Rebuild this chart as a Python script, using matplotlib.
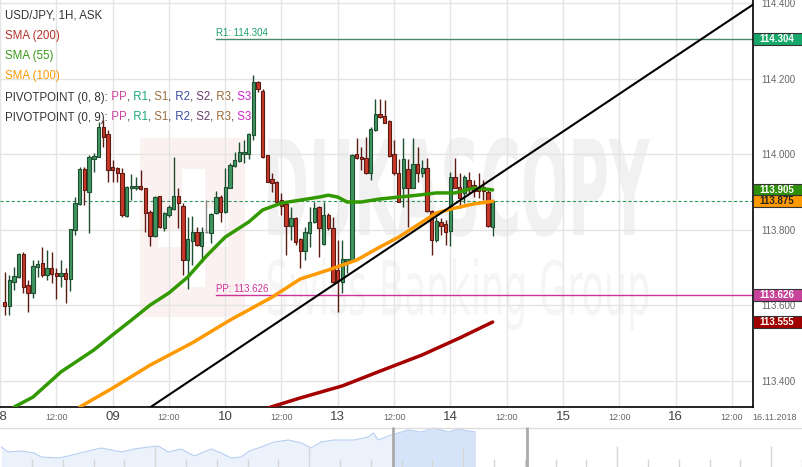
import numpy as np
import matplotlib
matplotlib.use('Agg')
from matplotlib import pyplot as plt
from matplotlib.patches import Rectangle, PathPatch
from matplotlib.textpath import TextPath
from matplotlib.font_manager import FontProperties
from matplotlib.transforms import Affine2D, blended_transform_factory

plt.rcParams['font.family'] = ['Liberation Sans', 'DejaVu Sans']

# hourly candles, USD/JPY (bar 1 = 08.11 01:00)
opens = [113.608, 113.597, 113.661, 113.674, 113.735, 113.653, 113.632, 113.701, 113.711, 113.680,
         113.698, 113.685, 113.677, 113.685, 113.669, 113.799, 113.868, 113.960, 113.899, 113.987,
         113.992, 114.072, 114.053, 113.966, 113.963, 113.950, 113.836, 113.910, 113.910, 113.915,
         113.910, 113.846, 113.783, 113.889, 113.804, 113.838, 113.854, 113.889, 113.862, 113.719,
         113.770, 113.793, 113.756, 113.793, 113.791, 113.844, 113.886, 113.846, 113.910, 113.968,
         113.982, 114.000, 114.000, 114.050, 114.191, 114.167, 113.997, 113.934, 113.926, 113.878,
         113.868, 113.809, 113.831, 113.775, 113.743, 113.791, 113.820, 113.860, 113.762, 113.838,
         113.804, 113.693, 113.661, 113.717, 113.719, 114.000, 113.992, 113.989, 113.950, 114.064,
         114.106, 114.101, 114.087, 114.000, 113.950, 113.910, 113.960, 113.910, 113.974, 113.950,
         113.963, 113.849, 113.772, 113.820, 113.815, 113.796, 113.939, 113.913, 113.897, 113.931,
         113.918, 113.913, 113.913, 113.899, 113.807]
highs = [113.687, 113.680, 113.701, 113.738, 113.740, 113.666, 113.719, 113.719, 113.754, 113.746,
         113.740, 113.698, 113.719, 113.698, 113.801, 113.886, 113.966, 113.966, 113.997, 114.003,
         114.085, 114.090, 114.064, 113.984, 113.966, 113.963, 113.915, 113.947, 113.939, 113.958,
         113.910, 113.852, 113.889, 113.889, 113.846, 113.865, 113.992, 113.910, 113.870, 113.833,
         113.836, 113.807, 113.807, 113.878, 113.844, 113.902, 113.891, 113.963, 113.976, 114.005,
         114.032, 114.037, 114.056, 114.209, 114.193, 114.172, 113.997, 113.950, 113.929, 113.897,
         113.870, 113.860, 113.833, 113.778, 113.807, 113.860, 113.873, 113.862, 113.873, 113.844,
         113.833, 113.772, 113.772, 113.722, 114.000, 114.042, 114.019, 114.045, 114.072, 114.146,
         114.146, 114.143, 114.090, 114.037, 113.987, 114.042, 113.987, 114.042, 114.019, 113.984,
         113.989, 113.852, 113.833, 113.831, 113.825, 113.952, 113.989, 113.950, 113.944, 113.952,
         113.931, 113.950, 113.931, 113.905, 113.878]
lows = [113.574, 113.574, 113.640, 113.672, 113.632, 113.581, 113.619, 113.674, 113.674, 113.666,
        113.658, 113.616, 113.648, 113.605, 113.637, 113.786, 113.865, 113.865, 113.791, 113.952,
        113.992, 114.019, 113.926, 113.926, 113.926, 113.833, 113.833, 113.878, 113.905, 113.905,
        113.793, 113.756, 113.780, 113.804, 113.796, 113.833, 113.852, 113.804, 113.680, 113.642,
        113.706, 113.756, 113.714, 113.791, 113.764, 113.841, 113.820, 113.844, 113.910, 113.966,
        113.979, 113.976, 113.987, 114.037, 114.164, 113.989, 113.926, 113.899, 113.873, 113.838,
        113.733, 113.772, 113.759, 113.698, 113.719, 113.754, 113.817, 113.727, 113.759, 113.799,
        113.658, 113.581, 113.632, 113.685, 113.714, 113.987, 113.958, 113.947, 113.931, 114.061,
        114.095, 114.082, 113.992, 113.944, 113.873, 113.860, 113.807, 113.910, 113.926, 113.939,
        113.846, 113.733, 113.767, 113.786, 113.759, 113.756, 113.910, 113.857, 113.870, 113.897,
        113.886, 113.883, 113.878, 113.807, 113.783]
closes = [113.597, 113.666, 113.677, 113.735, 113.648, 113.632, 113.703, 113.709, 113.680, 113.698,
          113.682, 113.677, 113.685, 113.669, 113.801, 113.870, 113.960, 113.905, 113.992, 113.995,
          114.072, 114.045, 113.958, 113.958, 113.950, 113.838, 113.913, 113.915, 113.915, 113.907,
          113.844, 113.783, 113.886, 113.807, 113.844, 113.860, 113.889, 113.870, 113.719, 113.775,
          113.793, 113.759, 113.793, 113.793, 113.841, 113.886, 113.846, 113.913, 113.971, 113.984,
          114.005, 114.005, 114.053, 114.191, 114.172, 113.992, 113.926, 113.923, 113.873, 113.862,
          113.809, 113.831, 113.767, 113.743, 113.793, 113.820, 113.857, 113.804, 113.838, 113.804,
          113.661, 113.664, 113.722, 113.722, 113.997, 113.989, 113.987, 113.950, 114.066, 114.106,
          114.098, 114.082, 113.995, 113.950, 113.873, 113.987, 113.910, 113.974, 113.950, 113.963,
          113.849, 113.772, 113.823, 113.809, 113.793, 113.939, 113.910, 113.883, 113.939, 113.913,
          113.902, 113.902, 113.902, 113.809, 113.875]

# moving averages (bar index, price)
sma55_bar = [3, 7, 13, 20, 24, 28, 32, 36, 40, 44, 48, 53, 56, 60, 64, 68, 70, 72, 74, 77, 81, 85, 89, 93, 97, 101, 105]
sma55 = [113.330, 113.356, 113.423, 113.481, 113.521, 113.560, 113.600, 113.632, 113.674, 113.730,
         113.780, 113.820, 113.852, 113.870, 113.878, 113.886, 113.891, 113.886, 113.873, 113.873,
         113.881, 113.886, 113.891, 113.897, 113.897, 113.910, 113.905]
sma100_bar = [17, 24, 32, 41, 49, 58, 64, 70, 76, 81, 85, 89, 93, 97, 101, 105]
sma100 = [113.330, 113.380, 113.441, 113.500, 113.560, 113.621, 113.669, 113.693, 113.719, 113.754,
          113.780, 113.812, 113.844, 113.857, 113.868, 113.875]
sma200_bar = [57, 64, 73, 81, 90, 98, 105]
sma200 = [113.327, 113.354, 113.386, 113.425, 113.468, 113.513, 113.555]

trend_bar = [32, 161]
trend = [113.329, 114.400]

pp, r1 = 113.626, 114.304
pivot_start = 46

tick_labels = ['08', '12:00', '09', '12:00', '10', '12:00', '13', '12:00',
               '14', '12:00', '15', '12:00', '16', '12:00']

# navigator (days, price)
nav_days = [0, 0.23, 0.65, 1.07, 1.30, 1.85, 2.18, 2.69, 3.25, 3.57, 3.90, 4.32, 4.77, 5.10, 5.42,
            5.84, 6.27, 6.82, 7.14, 7.47, 7.79, 8.05, 8.44, 8.86, 9.32, 9.74, 10.06, 10.39, 10.81,
            11.46, 11.92, 12.08, 12.24, 12.66, 13.21, 13.64, 14.06, 14.51, 14.84, 15.16, 15.39]
nav_price = [113.20, 112.90, 112.96, 112.84, 112.60, 112.54, 112.66, 112.90, 113.14, 113.02, 112.90,
             113.08, 113.20, 113.26, 112.90, 113.08, 112.66, 113.08, 112.84, 112.54, 112.60, 112.96,
             113.20, 113.50, 113.62, 113.44, 113.14, 113.50, 113.62, 113.62, 113.80, 114.04, 113.62,
             113.92, 114.22, 114.10, 114.34, 114.10, 114.28, 114.16, 114.10]
nav_window = (12.73, 17.08)

UP, UP_EDGE = '#3f9560', '#1e4d2f'
DOWN, DOWN_EDGE = '#c8382a', '#5c1b12'
TXT = '#333333'

fig = plt.figure(figsize=(8.03, 4.67), dpi=100)
ax = fig.add_axes([0, 60 / 467, 753 / 803, 407 / 467])
ax.set_xlim(0.64, 160.5)
ax.set_ylim(113.330, 114.408)

# grid / frame
ax.set_axisbelow(True)
ax.grid(True, color='#e4e4e4', lw=1)
for side in ('left', 'top'):
    ax.spines[side].set_visible(False)
for side in ('right', 'bottom'):
    ax.spines[side].set_color('black')
    ax.spines[side].set_linewidth(1.2)
ax.set_xticks(np.arange(0, 157, 12))
ax.set_xticklabels([])
ax.tick_params(axis='x', length=0)
ax.yaxis.tick_right()
ax.set_yticks(np.round(np.arange(113.4, 114.41, 0.2), 1))
ax.set_yticklabels([f'{v:.3f}' for v in np.arange(113.4, 114.41, 0.2)])
ax.tick_params(axis='y', length=0, pad=6, labelsize=7, labelcolor='#666666')

# watermark
ax.add_patch(Rectangle((0.186, 0.221), 0.139, 0.440, transform=ax.transAxes,
                       fc='#fcf1f1', ec='none', zorder=0.1))
for x0, y0, w, h in [(0.242, 0.295, 0.030, 0.290), (0.210, 0.393, 0.032, 0.042),
                     (0.272, 0.393, 0.031, 0.096)]:
    ax.add_patch(Rectangle((x0, y0), w, h, transform=ax.transAxes, fc='white', ec='none', zorder=0.2))


def watermark(text, x0, x1, y0, y1, color, weight):
    tp = TextPath((0, 0), text, size=10, prop=FontProperties(family='DejaVu Sans', weight=weight))
    bb = tp.get_extents()
    tr = (Affine2D().translate(-bb.x0, -bb.y0).scale((x1 - x0) / bb.width, (y1 - y0) / bb.height)
          .translate(x0, y0) + ax.transAxes)
    ax.add_patch(PathPatch(tp, transform=tr, fc=color, ec='none', zorder=0.2))


watermark('DUKASCOPY', 0.356, 0.863, 0.418, 0.663, '#f1f1f1', 'bold')
watermark('Swiss Banking Group', 0.356, 0.861, 0.189, 0.366, '#f5f5f5', 'normal')

# pivot levels
ax.plot([pivot_start, 161], [r1, r1], color='#4a8a6a', lw=1, zorder=1.5)
ax.plot([pivot_start, 161], [pp, pp], color='#cc3399', lw=1, zorder=1.5)
ax.text(pivot_start, r1 + 0.004, f'R1: {r1:.3f}', color='#1aa06a', fontsize=7, va='bottom', zorder=2)
ax.text(pivot_start, pp + 0.004, f'PP: {pp:.3f}', color='#cc3399', fontsize=7, va='bottom', zorder=2)
ax.axhline(closes[-1], color='#2e9a60', lw=0.8, ls=(0, (3, 2)), zorder=1.5)

# candles
bars = np.arange(1, len(opens) + 1)
o, h, l, c = map(np.array, (opens, highs, lows, closes))
up = c > o
down = c < o
flat = c == o
ax.vlines(bars[up], l[up], h[up], color=UP_EDGE, lw=1, zorder=2)
ax.vlines(bars[down], l[down], h[down], color=DOWN_EDGE, lw=1, zorder=2)
ax.vlines(bars[flat], l[flat], h[flat], color='#888888', lw=1, zorder=2)
ax.hlines(c[flat], bars[flat] - 0.36, bars[flat] + 0.36, color='#888888', lw=1, zorder=2)
ax.bar(bars[up], c[up] - o[up], bottom=o[up], width=0.72, color=UP, edgecolor=UP_EDGE, lw=0.8, zorder=2.1)
ax.bar(bars[down], o[down] - c[down], bottom=c[down], width=0.72, color=DOWN, edgecolor=DOWN_EDGE,
       lw=0.8, zorder=2.1)

# moving averages and trend line
ax.plot(sma200_bar, sma200, color='#a50000', lw=2.5, solid_capstyle='round', zorder=3)
ax.plot(sma100_bar, sma100, color='#ff9900', lw=2.5, solid_capstyle='round', zorder=3)
ax.plot(sma55_bar, sma55, color='#339900', lw=2.5, solid_capstyle='round', zorder=3)
ax.plot(trend_bar, trend, color='black', lw=1.5, zorder=4)

# price tags on the right axis
tr_tag = blended_transform_factory(ax.transAxes, ax.transData)
tag_h = 12 / 377.5


def tag(v, fc, tc):
    ax.add_patch(Rectangle((1.0, v - tag_h / 2), 50 / 753, tag_h, transform=tr_tag, fc=fc,
                           ec='#333333', lw=0.8, clip_on=False, zorder=6))
    ax.text(1 + 6 / 753, v, f'{v:.3f}', transform=tr_tag, color=tc, fontsize=7, fontweight='bold',
            va='center', ha='left', clip_on=False, zorder=7)


tag(r1, '#16a86a', 'white')
tag(sma55[-1], '#2f8f0a', 'white')
tag(closes[-1], '#ff9900', '#222222')
tag(pp, '#c8449a', 'white')
tag(sma200[-1], '#a00000', 'white')

# x labels
tr_x = ax.get_xaxis_transform()
for t, s in zip(np.arange(0, 157, 12), tick_labels):
    if s == '12:00':
        ax.text(t, -10 / 407, s, transform=tr_x, ha='center', va='center', fontsize=6.5,
                color='#666666', clip_on=False)
    else:
        ax.text(t, -10 / 407, s, transform=tr_x, ha='center', va='center', fontsize=9.5,
                color='#444444', clip_on=False)
ax.text(775 / 753, -10 / 407, '16.11.2018', transform=ax.transAxes, ha='center', va='center',
        fontsize=6.5, color='#666666', clip_on=False)

# legend block (top left)
fs = 8.3
fig.text(5 / 803, 1 - 15.5 / 467, 'USD/JPY, 1H, ASK', color=TXT, fontsize=fs, va='center')
fig.text(5 / 803, 1 - 36 / 467, 'SMA (200)', color='#b5332a', fontsize=fs, va='center')
fig.text(5 / 803, 1 - 56 / 467, 'SMA (55)', color='#3a9a1a', fontsize=fs, va='center')
fig.text(5 / 803, 1 - 76 / 467, 'SMA (100)', color='#ff9900', fontsize=fs, va='center')

pivot_parts = [(' PP', '#d0449c'), (',', TXT), (' R1', '#1aaa7a'), (',', TXT), (' S1', '#9a7040'),
               (',', TXT), (' R2', '#3a4fa0'), (',', TXT), (' S2', '#6a3a6a'), (',', TXT),
               (' R3', '#9a6a3a'), (',', TXT), (' S3', '#cc22cc')]
for row, y in (('PIVOTPOINT (0, 8):', 96), ('PIVOTPOINT (0, 9):', 116)):
    t = fig.text(5 / 803, 1 - y / 467, row, color=TXT, fontsize=fs, va='center_baseline')
    for s, col in pivot_parts:
        t = ax.annotate(s, xy=(1, 0), xycoords=t, va='bottom', ha='left', color=col, fontsize=fs,
                        zorder=8)

# navigator
nav = fig.add_axes([0, 0, 1, 40 / 467])
nav.set_xlim(-0.04, 26.03)
nav.set_ylim(112.0, 114.4)
nav.axis('off')
nav.fill_between(nav_days, nav_price, 112.0, color='#ecf2fc', lw=0)
sel = nav.fill_between(nav_days, nav_price, 112.0, color='#d6e4f9', lw=0)
clip = Rectangle((nav_window[0], 112.0), nav_window[1] - nav_window[0], 2.4, transform=nav.transData,
                 visible=False)
nav.add_patch(clip)
sel.set_clip_path(clip)
nav.plot(nav_days, nav_price, color='#b7cef3', lw=0.8)
for d in range(1, 27):
    top = 113.26 if d % 5 == 0 else 112.48
    nav.vlines(d, 112.0, top, color='#d6d6d6', lw=1)
nav.axhline(114.35, color='#dddddd', lw=1)
nav.vlines(nav_window, 112.0, 114.4, color='#aaaaaa', lw=2)

fig.savefig('out.png', dpi=100)
